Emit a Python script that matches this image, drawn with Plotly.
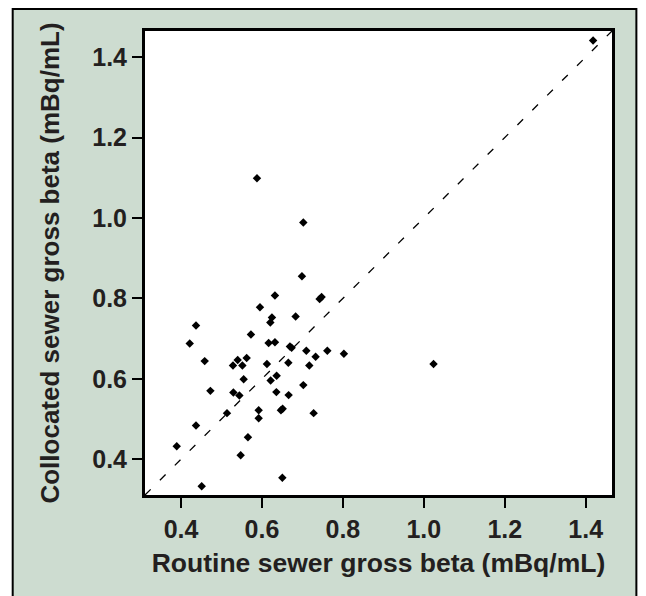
import plotly.graph_objects as go

# Routine (x) vs collocated (y) sewer gross beta, mBq/mL
routine = [0.5877, 0.7022, 0.6988, 0.6321, 0.7425, 0.7474, 0.5951, 0.6247, 0.6207, 0.6832,
           0.4370, 0.5728, 0.4215, 0.6165, 0.6321, 0.6691, 0.6733, 0.7096, 0.7615, 0.8025,
           0.7326, 0.7170, 0.6652, 0.6123, 0.4585, 0.5284, 0.5400, 0.5516, 0.5622, 0.5548,
           0.6363, 0.6215, 0.4726, 0.5294, 0.5442, 0.6356, 0.6659, 0.7022, 0.5136, 0.5919,
           0.5919, 0.6469, 0.6511, 0.7277, 0.4370, 0.5654, 0.3894, 0.5474, 0.6504, 0.4511,
           1.0240, 1.4183]
collocated = [1.0990, 0.9886, 0.8550, 0.8070, 0.7985, 0.8035, 0.7780, 0.7527, 0.7400, 0.7550,
              0.7328, 0.7100, 0.6880, 0.6890, 0.6910, 0.6805, 0.6770, 0.6697, 0.6697, 0.6623,
              0.6548, 0.6330, 0.6400, 0.6366, 0.6440, 0.6330, 0.6470, 0.6330, 0.6516, 0.5990,
              0.6075, 0.5958, 0.5700, 0.5659, 0.5584, 0.5669, 0.5594, 0.5843, 0.5146, 0.5220,
              0.5020, 0.5220, 0.5253, 0.5146, 0.4837, 0.4548, 0.4324, 0.4100, 0.3540, 0.3327,
              0.6366, 1.4413]

axis_range = [0.311, 1.465]
tick_vals = [0.4, 0.6, 0.8, 1.0, 1.2, 1.4]
tick_text = ["0.4", "0.6", "0.8", "1.0", "1.2", "1.4"]
x_title = "Routine sewer gross beta (mBq/mL)"
y_title = "Collocated sewer gross beta (mBq/mL)"

FONT = "Liberation Sans, Arial, sans-serif"
TXT = "#231f20"
GREEN = "#cddcd0"

fig = go.Figure()
fig.add_trace(go.Scatter(x=axis_range, y=axis_range, mode="lines",
                         line=dict(color="black", width=1.3, dash="8px,13px"),
                         hoverinfo="skip", showlegend=False))
fig.add_trace(go.Scatter(x=routine, y=collocated, mode="markers",
                         marker=dict(symbol="diamond", size=6.5, color="black",
                                     line=dict(width=0)),
                         showlegend=False))

axis_common = dict(range=axis_range, tickvals=tick_vals, ticktext=tick_text,
                   ticks="outside", ticklen=10, tickwidth=2, tickcolor="black",
                   showline=True, linewidth=3, linecolor="black", mirror=True,
                   showgrid=False, zeroline=False,
                   tickfont=dict(family=FONT, size=25, color=TXT, weight="bold"))

# page body has an 8px default margin; the figure is sized to fit the window
fig.update_layout(
    width=638, height=588,
    margin=dict(l=137, r=34, t=23, b=101),
    paper_bgcolor="white", plot_bgcolor="white",
    xaxis=dict(**axis_common,
               title=dict(text=f"<b>{x_title}</b>", standoff=12,
                          font=dict(family=FONT, size=26.5, color=TXT))),
    yaxis=dict(**axis_common,
               title=dict(text=f"<b>{y_title}</b>", standoff=26,
                          font=dict(family=FONT, size=26, color=TXT))),
    shapes=[
        dict(type="rect", xref="paper", yref="paper", layer="below",
             x0=-0.2833, x1=1.0522, y0=-0.26, y1=1.0474,
             fillcolor=GREEN, line=dict(color="black", width=2)),
        dict(type="rect", xref="paper", yref="paper", layer="below",
             x0=0, x1=1, y0=0, y1=1, fillcolor="white", line=dict(width=0)),
    ],
)

fig.write_html("out.html")
